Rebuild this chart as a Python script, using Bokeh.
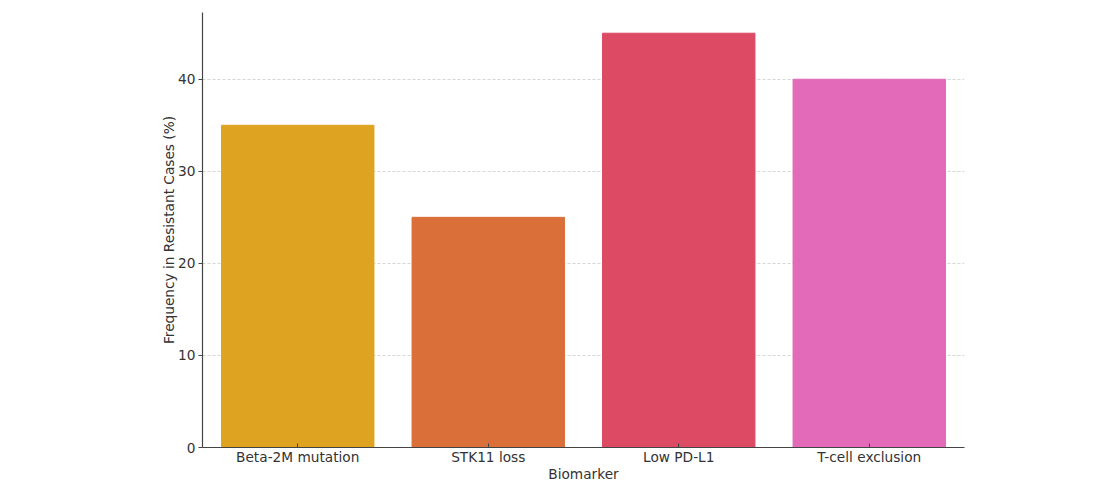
from bokeh.plotting import figure
from bokeh.models import ColumnDataSource, Range1d, FactorRange
from bokeh.embed import file_html
from bokeh.resources import INLINE

biomarkers = ["Beta-2M mutation", "STK11 loss", "Low PD-L1", "T-cell exclusion"]
frequency = [35, 25, 45, 40]
colors = ["#DEA320", "#DA6F3A", "#DC4A64", "#E26AB9"]

src = ColumnDataSource(dict(x=biomarkers, top=frequency, color=colors))

p = figure(x_range=FactorRange(*biomarkers, range_padding=0), y_range=Range1d(0, 47.25),
           width=1100, height=484, output_backend="svg", toolbar_location=None,
           min_border_left=202, min_border_right=136, min_border_top=12, min_border_bottom=37)
p.vbar(x="x", top="top", width=0.8, color="color", source=src)

p.outline_line_color = None
p.xgrid.grid_line_color = None
p.ygrid.grid_line_color = "#cccccc"
p.ygrid.grid_line_dash = "3 2"
p.ygrid.grid_line_alpha = 0.8
p.yaxis.ticker = [0, 10, 20, 30, 40]
p.yaxis.minor_tick_line_color = None

for ax in (p.xaxis, p.yaxis):
    ax.axis_line_color = "#444444"
    ax.axis_line_width = 1.2
    ax.major_tick_line_color = "#444444"
    ax.major_label_text_font = "DejaVu Sans"
    ax.major_label_text_font_size = "13.7px"
    ax.major_label_text_color = "#333333"
    ax.axis_label_text_font = "DejaVu Sans"
    ax.axis_label_text_font_size = "13.7px"
    ax.axis_label_text_font_style = "normal"
    ax.axis_label_text_color = "#333333"

p.xaxis.axis_label = "Biomarker"
p.yaxis.axis_label = "Frequency in Resistant Cases (%)"
p.xaxis.major_tick_in = 4
p.xaxis.major_tick_out = 0
p.xaxis.major_label_standoff = 1
p.xaxis.axis_label_standoff = -2
p.yaxis.major_tick_in = 0
p.yaxis.major_tick_out = 4
p.yaxis.major_label_standoff = 3
p.yaxis.axis_label_standoff = -2

open("out.html", "w").write(file_html(p, INLINE))
